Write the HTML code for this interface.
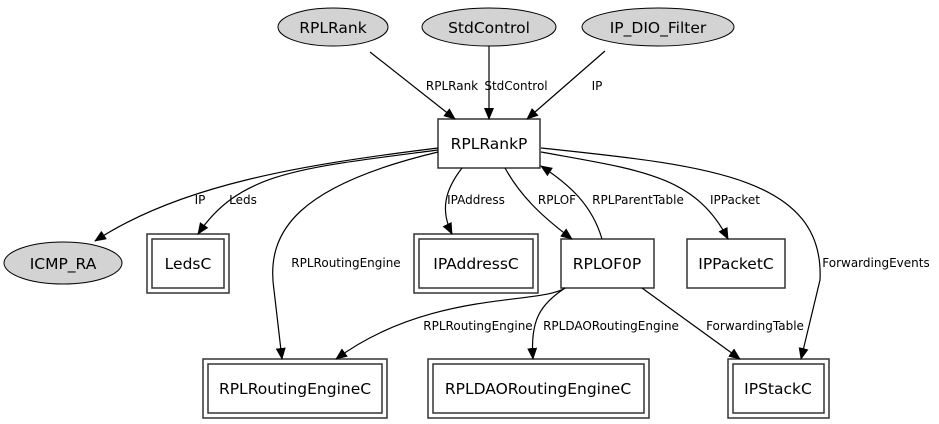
<!DOCTYPE html>
<html><head><meta charset="utf-8"><style>
html,body{margin:0;padding:0;background:#fff;}
svg{display:block;}
text{font-family:"DejaVu Sans","Liberation Sans",sans-serif;}
.n{font-size:15.5px;text-anchor:middle;}
.e{font-size:12px;text-anchor:middle;}
.l{fill:none;stroke:#000;stroke-width:1.2;marker-end:url(#a);}
</style></head><body>
<svg width="939" height="424" viewBox="0 0 939 424" xmlns="http://www.w3.org/2000/svg">
<defs><marker id="a" markerWidth="12" markerHeight="10" refX="11" refY="5" orient="auto" markerUnits="userSpaceOnUse"><path d="M0,0 L12,5 L0,10 z" fill="#000"/></marker></defs>
<rect width="939" height="424" fill="#fff"/>
<g fill="#d3d3d3" stroke="#000" stroke-width="1">
<ellipse cx="333" cy="27" rx="55" ry="19"/>
<ellipse cx="489" cy="27" rx="67" ry="19"/>
<ellipse cx="658" cy="27" rx="76" ry="19"/>
<ellipse cx="63" cy="263" rx="59" ry="21"/>
</g>
<g fill="none" stroke="#333" stroke-width="1.5">
<rect x="438" y="119" width="102" height="49"/>
<rect x="561" y="239" width="93" height="49"/>
<rect x="687" y="239" width="98" height="49"/>
<rect x="147" y="234" width="82" height="59"/><rect x="152" y="239" width="72" height="49"/>
<rect x="414" y="234" width="124" height="59"/><rect x="419" y="239" width="114" height="49"/>
<rect x="203" y="359" width="184" height="59"/><rect x="208" y="364" width="174" height="49"/>
<rect x="428" y="359" width="221" height="59"/><rect x="433" y="364" width="211" height="49"/>
<rect x="728" y="359" width="101" height="59"/><rect x="733" y="364" width="91" height="49"/>
</g>
<g class="n">
<text x="333" y="33">RPLRank</text>
<text x="489" y="33">StdControl</text>
<text x="658" y="33">IP_DIO_Filter</text>
<text x="489" y="149">RPLRankP</text>
<text x="63" y="269">ICMP_RA</text>
<text x="188" y="269">LedsC</text>
<text x="476" y="269">IPAddressC</text>
<text x="607" y="269">RPLOF0P</text>
<text x="736" y="269">IPPacketC</text>
<text x="295" y="394">RPLRoutingEngineC</text>
<text x="538" y="394">RPLDAORoutingEngineC</text>
<text x="778" y="394">IPStackC</text>
</g>
<g>
<path class="l" d="M370,52 L455,119"/>
<path class="l" d="M489,46 L489,119"/>
<path class="l" d="M605,51 L527,119"/>
<path class="l" d="M438,148 C300,165 180,185 95,241"/>
<path class="l" d="M438,150 C300,168 240,172 198,234"/>
<path class="l" d="M438,152 C300,185 265,230 274,290 L282,359"/>
<path class="l" d="M462,168 C445,190 440,210 452,234"/>
<path class="l" d="M505,168 C520,195 540,215 572,239"/>
<path class="l" d="M602,239 C592,205 570,185 541,166"/>
<path class="l" d="M541,152 C640,170 695,175 728,239"/>
<path class="l" d="M541,148 C700,165 825,175 820,280 L801,359"/>
<path class="l" d="M565,288 C540,305 430,290 336,359"/>
<path class="l" d="M565,288 C540,305 530,320 533,359"/>
<path class="l" d="M642,288 L740,359"/>
</g>
<g class="e">
<text x="452" y="90">RPLRank</text>
<text x="516" y="90">StdControl</text>
<text x="597" y="90">IP</text>
<text x="200" y="204">IP</text>
<text x="243" y="204">Leds</text>
<text x="346" y="267">RPLRoutingEngine</text>
<text x="476" y="204">IPAddress</text>
<text x="557" y="204">RPLOF</text>
<text x="638" y="204">RPLParentTable</text>
<text x="735" y="204">IPPacket</text>
<text x="876" y="267">ForwardingEvents</text>
<text x="478" y="330">RPLRoutingEngine</text>
<text x="611" y="330">RPLDAORoutingEngine</text>
<text x="755" y="330">ForwardingTable</text>
</g>
</svg>
</body></html>
